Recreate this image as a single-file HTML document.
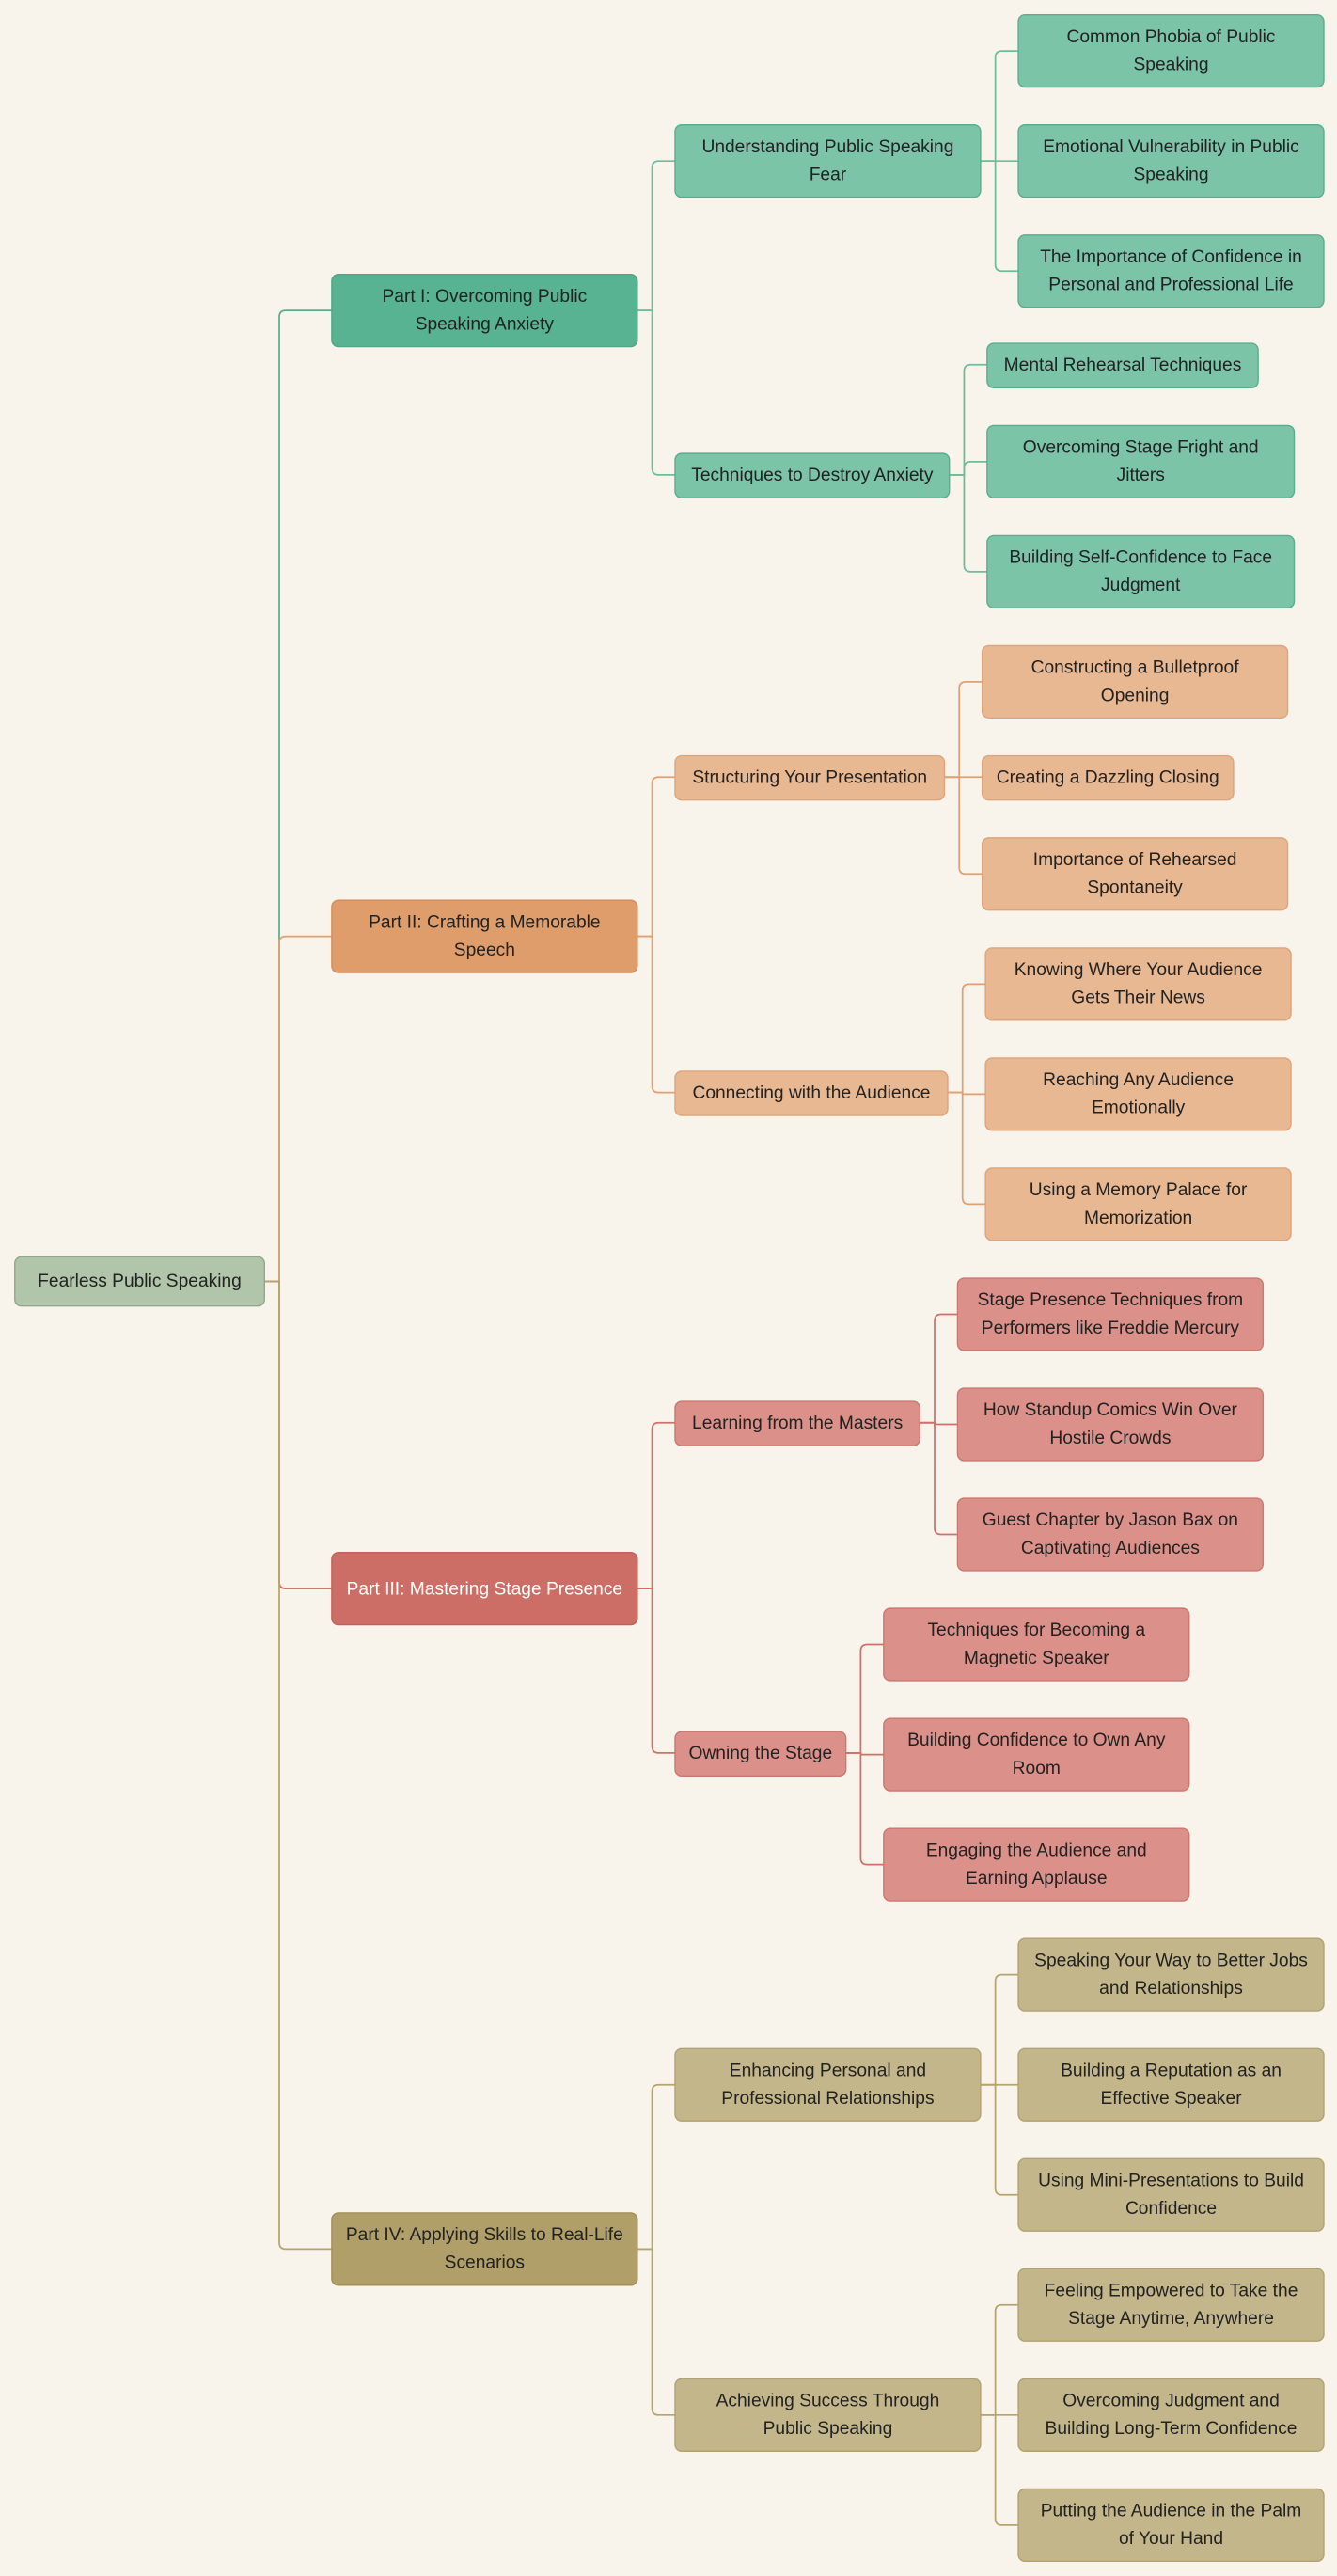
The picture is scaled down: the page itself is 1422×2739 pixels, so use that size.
<!DOCTYPE html>
<html><head><meta charset="utf-8"><style>
html,body{margin:0;padding:0;background:#f8f4ec;}
svg{display:block}
text{font-family:"Liberation Sans",sans-serif;font-size:11px;fill:#222;text-anchor:middle;dominant-baseline:central}
.g rect{fill:#7bc4a7;stroke:#5aae8d}
.g path{stroke:#6cbd98}
.o rect{fill:#e8b892;stroke:#dca57c}
.o path{stroke:#e0a070}
.r rect{fill:#db918a;stroke:#cc7770}
.r path{stroke:#d0706a}
.t rect{fill:#c4b68b;stroke:#b2a271}
.t path{stroke:#b5a46c}
path{fill:none;stroke-width:1}
rect{stroke-width:0.8}
</style></head><body>
<svg width="1422" height="2739" viewBox="0 0 814 1568" xmlns="http://www.w3.org/2000/svg">
<rect x="0" y="0" width="814" height="1568" fill="#f8f4ec" stroke="none"/>
<rect x="9" y="765" width="152" height="30" rx="4" fill="#b1c5ab" stroke="#8fa889" stroke-width="0.8"/>
<text x="85" y="780">Fearless Public Speaking</text>

<g class="g">
<path d="M161 780H170V193Q170 189 174 189H202" style="stroke:#5aae8d"/>
<path d="M388 189H397V102Q397 98 401 98H411"/>
<path d="M388 189H397V285Q397 289 401 289H411"/>
<path d="M597 98H606V35Q606 31 610 31H620"/>
<path d="M597 98H620"/>
<path d="M597 98H606V161Q606 165 610 165H620"/>
<path d="M578 289H587V226Q587 222 591 222H601"/>
<path d="M578 289H587V285Q587 281 591 281H601"/>
<path d="M578 289H587V344Q587 348 591 348H601"/>
<rect x="202" y="167" width="186" height="44" rx="4" style="fill:#57b391;stroke:#4ea684"/>
<text x="295" y="180.5">Part I: Overcoming Public</text><text x="295" y="197.5">Speaking Anxiety</text>
<rect x="411" y="76" width="186" height="44" rx="4"/>
<text x="504" y="89.5">Understanding Public Speaking</text><text x="504" y="106.5">Fear</text>
<rect x="411" y="276" width="167" height="27" rx="4"/>
<text x="494.5" y="289.5">Techniques to Destroy Anxiety</text>
<rect x="620" y="9" width="186" height="44" rx="4"/>
<text x="713" y="22.5">Common Phobia of Public</text><text x="713" y="39.5">Speaking</text>
<rect x="620" y="76" width="186" height="44" rx="4"/>
<text x="713" y="89.5">Emotional Vulnerability in Public</text><text x="713" y="106.5">Speaking</text>
<rect x="620" y="143" width="186" height="44" rx="4"/>
<text x="713" y="156.5">The Importance of Confidence in</text><text x="713" y="173.5">Personal and Professional Life</text>
<rect x="601" y="209" width="165" height="27" rx="4"/>
<text x="683.5" y="222.5">Mental Rehearsal Techniques</text>
<rect x="601" y="259" width="187" height="44" rx="4"/>
<text x="694.5" y="272.5">Overcoming Stage Fright and</text><text x="694.5" y="289.5">Jitters</text>
<rect x="601" y="326" width="187" height="44" rx="4"/>
<text x="694.5" y="339.5">Building Self-Confidence to Face</text><text x="694.5" y="356.5">Judgment</text>
</g>

<g class="o">
<path d="M161 780H170V574Q170 570 174 570H202"/>
<path d="M388 570H397V477Q397 473 401 473H411"/>
<path d="M388 570H397V661Q397 665 401 665H411"/>
<path d="M575 473H584V419Q584 415 588 415H598"/>
<path d="M575 473H598"/>
<path d="M575 473H584V528Q584 532 588 532H598"/>
<path d="M577 665H586V603Q586 599 590 599H600"/>
<path d="M577 665H586V666H600"/>
<path d="M577 665H586V729Q586 733 590 733H600"/>
<rect x="202" y="548" width="186" height="44" rx="4" style="fill:#e09d6c;stroke:#d58c58"/>
<text x="295" y="561.5">Part II: Crafting a Memorable</text><text x="295" y="578.5">Speech</text>
<rect x="411" y="460" width="164" height="27" rx="4"/>
<text x="493" y="473.5">Structuring Your Presentation</text>
<rect x="411" y="652" width="166" height="27" rx="4"/>
<text x="494" y="665.5">Connecting with the Audience</text>
<rect x="598" y="393" width="186" height="44" rx="4"/>
<text x="691" y="406.5">Constructing a Bulletproof</text><text x="691" y="423.5">Opening</text>
<rect x="598" y="460" width="153" height="27" rx="4"/>
<text x="674.5" y="473.5">Creating a Dazzling Closing</text>
<rect x="598" y="510" width="186" height="44" rx="4"/>
<text x="691" y="523.5">Importance of Rehearsed</text><text x="691" y="540.5">Spontaneity</text>
<rect x="600" y="577" width="186" height="44" rx="4"/>
<text x="693" y="590.5">Knowing Where Your Audience</text><text x="693" y="607.5">Gets Their News</text>
<rect x="600" y="644" width="186" height="44" rx="4"/>
<text x="693" y="657.5">Reaching Any Audience</text><text x="693" y="674.5">Emotionally</text>
<rect x="600" y="711" width="186" height="44" rx="4"/>
<text x="693" y="724.5">Using a Memory Palace for</text><text x="693" y="741.5">Memorization</text>
</g>

<g class="r">
<path d="M161 780H170V963Q170 967 174 967H202"/>
<path d="M388 967H397V870Q397 866 401 866H411"/>
<path d="M388 967H397V1063Q397 1067 401 1067H411"/>
<path d="M560 866H569V804Q569 800 573 800H583"/>
<path d="M560 866H569V867H583"/>
<path d="M560 866H569V930Q569 934 573 934H583"/>
<path d="M515 1067H524V1005Q524 1001 528 1001H538"/>
<path d="M515 1067H524V1068H538"/>
<path d="M515 1067H524V1131Q524 1135 528 1135H538"/>
<rect x="202" y="945" width="186" height="44" rx="4" style="fill:#cd6e66;stroke:#c45e56"/>
<text x="295" y="967.5" style="fill:#fff">Part III: Mastering Stage Presence</text>
<rect x="411" y="853" width="149" height="27" rx="4"/>
<text x="485.5" y="866.5">Learning from the Masters</text>
<rect x="411" y="1054" width="104" height="27" rx="4"/>
<text x="463" y="1067.5">Owning the Stage</text>
<rect x="583" y="778" width="186" height="44" rx="4"/>
<text x="676" y="791.5">Stage Presence Techniques from</text><text x="676" y="808.5">Performers like Freddie Mercury</text>
<rect x="583" y="845" width="186" height="44" rx="4"/>
<text x="676" y="858.5">How Standup Comics Win Over</text><text x="676" y="875.5">Hostile Crowds</text>
<rect x="583" y="912" width="186" height="44" rx="4"/>
<text x="676" y="925.5">Guest Chapter by Jason Bax on</text><text x="676" y="942.5">Captivating Audiences</text>
<rect x="538" y="979" width="186" height="44" rx="4"/>
<text x="631" y="992.5">Techniques for Becoming a</text><text x="631" y="1009.5">Magnetic Speaker</text>
<rect x="538" y="1046" width="186" height="44" rx="4"/>
<text x="631" y="1059.5">Building Confidence to Own Any</text><text x="631" y="1076.5">Room</text>
<rect x="538" y="1113" width="186" height="44" rx="4"/>
<text x="631" y="1126.5">Engaging the Audience and</text><text x="631" y="1143.5">Earning Applause</text>
</g>

<g class="t">
<path d="M161 780H170V1365Q170 1369 174 1369H202"/>
<path d="M388 1369H397V1273Q397 1269 401 1269H411"/>
<path d="M388 1369H397V1466Q397 1470 401 1470H411"/>
<path d="M597 1269H606V1206Q606 1202 610 1202H620"/>
<path d="M597 1269H620"/>
<path d="M597 1269H606V1332Q606 1336 610 1336H620"/>
<path d="M597 1470H606V1407Q606 1403 610 1403H620"/>
<path d="M597 1470H620"/>
<path d="M597 1470H606V1533Q606 1537 610 1537H620"/>
<rect x="202" y="1347" width="186" height="44" rx="4" style="fill:#b09f68;stroke:#a18f57"/>
<text x="295" y="1360.5">Part IV: Applying Skills to Real-Life</text><text x="295" y="1377.5">Scenarios</text>
<rect x="411" y="1247" width="186" height="44" rx="4"/>
<text x="504" y="1260.5">Enhancing Personal and</text><text x="504" y="1277.5">Professional Relationships</text>
<rect x="411" y="1448" width="186" height="44" rx="4"/>
<text x="504" y="1461.5">Achieving Success Through</text><text x="504" y="1478.5">Public Speaking</text>
<rect x="620" y="1180" width="186" height="44" rx="4"/>
<text x="713" y="1193.5">Speaking Your Way to Better Jobs</text><text x="713" y="1210.5">and Relationships</text>
<rect x="620" y="1247" width="186" height="44" rx="4"/>
<text x="713" y="1260.5">Building a Reputation as an</text><text x="713" y="1277.5">Effective Speaker</text>
<rect x="620" y="1314" width="186" height="44" rx="4"/>
<text x="713" y="1327.5">Using Mini-Presentations to Build</text><text x="713" y="1344.5">Confidence</text>
<rect x="620" y="1381" width="186" height="44" rx="4"/>
<text x="713" y="1394.5">Feeling Empowered to Take the</text><text x="713" y="1411.5">Stage Anytime, Anywhere</text>
<rect x="620" y="1448" width="186" height="44" rx="4"/>
<text x="713" y="1461.5">Overcoming Judgment and</text><text x="713" y="1478.5">Building Long-Term Confidence</text>
<rect x="620" y="1515" width="186" height="44" rx="4"/>
<text x="713" y="1528.5">Putting the Audience in the Palm</text><text x="713" y="1545.5">of Your Hand</text>
</g>
</svg>
</body></html>
